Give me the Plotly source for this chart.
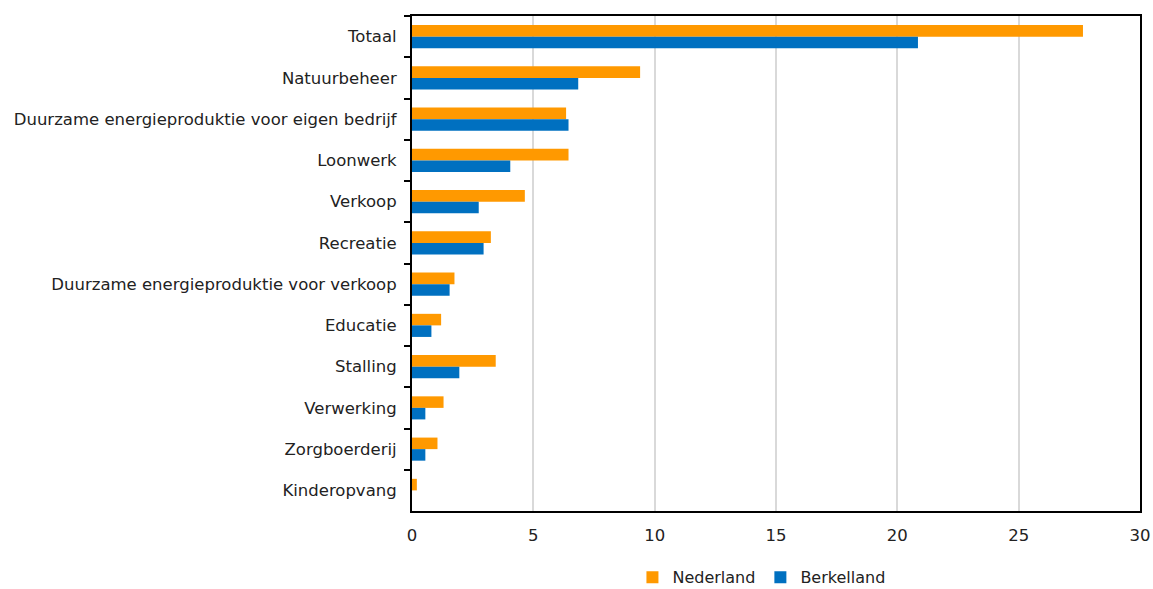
import plotly.graph_objects as go

categories = ["Totaal", "Natuurbeheer", "Duurzame energieproduktie voor eigen bedrijf",
              "Loonwerk", "Verkoop", "Recreatie", "Duurzame energieproduktie voor verkoop",
              "Educatie", "Stalling", "Verwerking", "Zorgboerderij", "Kinderopvang"]
nederland = [27.65, 9.4, 6.35, 6.45, 4.65, 3.25, 1.75, 1.2, 3.45, 1.3, 1.05, 0.2]
berkelland = [20.85, 6.85, 6.45, 4.05, 2.75, 2.95, 1.55, 0.8, 1.95, 0.55, 0.55, 0.0]
x_ticks = [0, 5, 10, 15, 20, 25, 30]

font_family = "DejaVu Sans, Verdana, sans-serif"

fig = go.Figure()
fig.add_trace(go.Bar(y=categories, x=nederland, orientation="h", name="Nederland",
                     marker=dict(color="#FF9900", line=dict(width=0))))
fig.add_trace(go.Bar(y=categories, x=berkelland, orientation="h", name="Berkelland",
                     marker=dict(color="#0070C0", line=dict(width=0))))

fig.update_layout(
    width=1153, height=589,
    margin=dict(l=412, r=13, t=16, b=78, autoexpand=False),
    barmode="group", bargap=0.44, bargroupgap=0,
    plot_bgcolor="white", paper_bgcolor="white",
    font=dict(family=font_family, size=16.5, color="#222222"),
    legend=dict(orientation="h", x=0.48, xanchor="center",
                y=-0.134, yanchor="middle",
                font=dict(size=16), itemwidth=30, traceorder="normal"),
    showlegend=True,
)
fig.update_xaxes(range=[0, 30], tickvals=x_ticks, showgrid=True, gridcolor="#d9d9d9",
                 gridwidth=1.5, showline=True, linecolor="black", linewidth=2, mirror=True,
                 zeroline=False, ticks="", tickfont=dict(size=16.5), automargin=False,
                 ticklabelstandoff=8)
fig.update_yaxes(autorange="reversed", showline=True, linecolor="black", linewidth=2,
                 mirror=True, ticks="outside", tickson="boundaries", ticklen=6,
                 tickcolor="black", tickwidth=2, ticklabelstandoff=10,
                 tickfont=dict(size=16.5), automargin=False)

fig.write_html("out.html", config={"displayModeBar": False},
               post_script="document.body.style.margin='0';document.body.style.overflow='hidden';")
